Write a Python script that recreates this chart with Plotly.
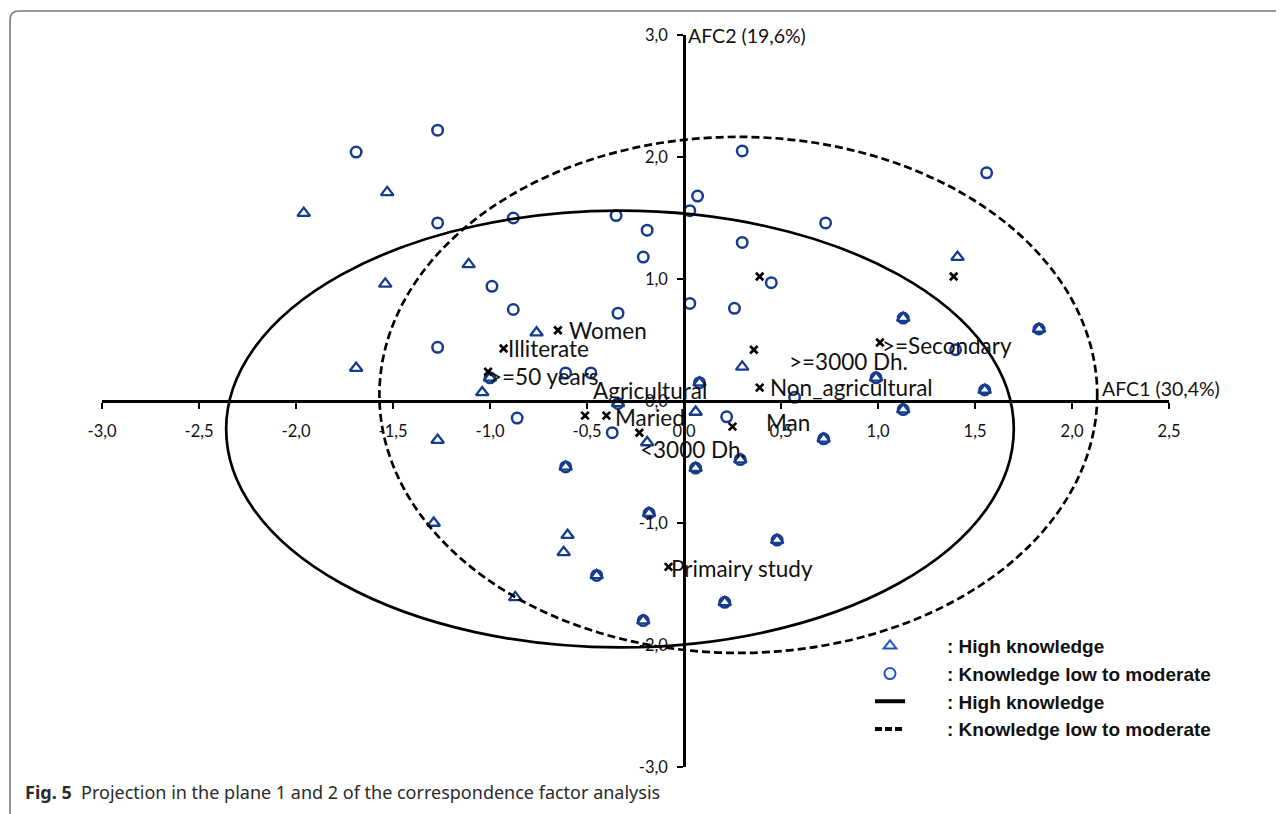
import plotly.graph_objects as go

# ---------------- data ----------------
# High knowledge only (triangles)
tri_x = [-1.96, -1.53, -1.54, -1.69, -1.11, -0.76, -1.04, -1.27, -1.29, -0.60, -0.62, -0.87, -0.19, 0.06, 0.30, 1.41]
tri_y = [1.54, 1.71, 0.96, 0.27, 1.12, 0.56, 0.07, -0.32, -1.00, -1.10, -1.24, -1.61, -0.34, -0.09, 0.28, 1.18]
# Knowledge low to moderate only (circles)
circ_x = [-1.69, -1.27, -1.27, -0.88, -0.35, -0.19, -0.21, 0.03, 0.07, 0.30, 0.30, 0.73, 1.56, 0.45, -0.99,
          -0.88, -0.34, 0.03, 0.26, -1.27, -0.61, -0.48, -0.86, -0.37, 0.22, 0.57, 1.40]
circ_y = [2.04, 2.22, 1.46, 1.50, 1.52, 1.40, 1.18, 1.56, 1.68, 2.05, 1.30, 1.46, 1.87, 0.97, 0.94,
          0.75, 0.72, 0.80, 0.76, 0.44, 0.23, 0.23, -0.14, -0.26, -0.13, 0.03, 0.42]
# points where both groups coincide
both_x = [-1.00, 0.08, -0.34, -0.61, 0.06, 0.29, 0.72, -0.18, 0.48, -0.45, -0.21, 0.21, 1.13, 1.83, 0.99, 1.55, 1.13]
both_y = [0.19, 0.15, -0.02, -0.54, -0.55, -0.48, -0.31, -0.92, -1.14, -1.43, -1.80, -1.65, 0.68, 0.59, 0.19, 0.09, -0.07]

# modalities (black crosses)
cat_names = ["Women", "Illiterate", ">=50 years", "Agricultural", "Maried", "<3000 Dh.", "Man",
             ">=3000 Dh.", "Non_agricultural", ">=Secondary", "Primairy study", "", ""]
cat_x = [-0.65, -0.93, -1.01, -0.51, -0.40, -0.23, 0.25, 0.36, 0.39, 1.01, -0.08, 0.39, 1.39]
cat_y = [0.58, 0.43, 0.24, -0.12, -0.12, -0.26, -0.21, 0.42, 0.11, 0.48, -1.36, 1.02, 1.02]

# confidence ellipses: centre and semi-axes
high_cx, high_cy, high_rx, high_ry = -0.33, -0.23, 2.03, 1.79
low_cx, low_cy, low_rx, low_ry = 0.28, 0.05, 1.85, 2.115

x_tickvals = [-3.0, -2.5, -2.0, -1.5, -1.0, -0.5, 0.0, 0.5, 1.0, 1.5, 2.0, 2.5]
x_ticktext = ["-3,0", "-2,5", "-2,0", "-1,5", "-1,0", "-0,5", "0,0", "0,5", "1,0", "1,5", "2,0", "2,5"]
y_tickvals = [-3.0, -2.0, -1.0, 0.0, 1.0, 2.0, 3.0]
y_ticktext = ["-3,0", "-2,0", "-1,0", "0,0", "1,0", "2,0", "3,0"]

axis1_title = "AFC1 (30,4%)"
axis2_title = "AFC2 (19,6%)"
legend_labels = [": High knowledge", ": Knowledge low to moderate", ": High knowledge", ": Knowledge low to moderate"]
caption_bold = "Fig. 5"
caption_text = "Projection in the plane 1 and 2 of the correspondence factor analysis"

# ---------------- layout geometry ----------------
# the page body has an 8px margin; the figure is sized to fit the window
OFF = 8
W, H = 1284 - OFF, 814 - OFF
PL, PR, PT, PB = 102, 1169, 35, 767          # plot area in page pixels
ML, MR, MT, MB = PL - OFF, W - (PR - OFF), PT - OFF, H - (PB - OFF)
PW, PH = PR - PL, PB - PT
X_RANGE = [-3.0, 2.5]
Y_RANGE = [-3.0, 3.0]


def px_x(p):
    return (p - PL) / PW


def px_y(p):
    return (PB - p) / PH


BLUE = "#173c8e"
LBLUE = "#2456b8"

# label offsets in pixels (xshift, yshift)
label_shift = {
    "Women": (9, 0), "Illiterate": (2, 0), ">=50 years": (-1, -5), "Agricultural": (6, 25),
    "Maried": (7, -2), "<3000 Dh.": (-1, -17), "Man": (31, 4), ">=3000 Dh.": (33, -12),
    "Non_agricultural": (8, 0), ">=Secondary": (0, -3), "Primairy study": (1, -2),
}

fig = go.Figure()

# circles (low to moderate)
fig.add_trace(go.Scatter(
    x=circ_x + both_x, y=circ_y + both_y, mode="markers", showlegend=False,
    marker=dict(symbol="circle-open", size=10.5, color=BLUE, line=dict(width=2.5, color=BLUE)),
    hoverinfo="skip"))
# triangles (high)
fig.add_trace(go.Scatter(
    x=tri_x + both_x, y=tri_y + both_y, mode="markers", showlegend=False,
    marker=dict(symbol="triangle-up-open", size=11, color=BLUE, line=dict(width=2.3, color=BLUE)),
    hoverinfo="skip"))
# crosses
fig.add_trace(go.Scatter(
    x=cat_x, y=cat_y, mode="markers", showlegend=False,
    marker=dict(symbol="x-thin", size=7.5, color="black", line=dict(width=2.7, color="black")),
    hoverinfo="skip"))

# legend-only entries
pad = "\u00a0" * 7
fig.add_trace(go.Scatter(x=[None], y=[None], mode="markers", name=pad + legend_labels[0],
                         legendgroup="a",
                         marker=dict(symbol="triangle-up-open", size=11, color=LBLUE,
                                     line=dict(width=2, color=LBLUE))))
fig.add_trace(go.Scatter(x=[None], y=[None], mode="markers", name=pad + legend_labels[1],
                         legendgroup="b",
                         marker=dict(symbol="circle-open", size=11, color=LBLUE,
                                     line=dict(width=2, color=LBLUE))))
fig.add_trace(go.Scatter(x=[None], y=[None], mode="lines", name=pad + legend_labels[2],
                         legendgroup="c", line=dict(color="black", width=4)))
fig.add_trace(go.Scatter(x=[None], y=[None], mode="lines", name=pad + legend_labels[3],
                         legendgroup="d", line=dict(color="black", width=4, dash="7px,3px")))

# ellipses
fig.add_shape(type="circle", xref="x", yref="y",
              x0=high_cx - high_rx, x1=high_cx + high_rx, y0=high_cy - high_ry, y1=high_cy + high_ry,
              line=dict(color="black", width=2.7))
fig.add_shape(type="circle", xref="x", yref="y",
              x0=low_cx - low_rx, x1=low_cx + low_rx, y0=low_cy - low_ry, y1=low_cy + low_ry,
              line=dict(color="black", width=2.7, dash="8px,4px"))

# frame with rounded corner
r = 9
frame_path = (f"M {px_x(10)},{px_y(840)} L {px_x(10)},{px_y(11 + r)} "
              f"Q {px_x(10)},{px_y(11)} {px_x(10 + r)},{px_y(11)} L {px_x(1320)},{px_y(11)}")
fig.add_shape(type="path", xref="paper", yref="paper", path=frame_path,
              line=dict(color="#7a7a7a", width=1.6), layer="below")


def esc(s):
    return s.replace("<", "&lt;").replace(">", "&gt;")


# modality labels
for name, xv, yv in zip(cat_names, cat_x, cat_y):
    if not name:
        continue
    dx, dy = label_shift.get(name, (6, 0))
    fig.add_annotation(x=xv, y=yv, xref="x", yref="y", text=esc(name), showarrow=False,
                       xanchor="left", yanchor="middle", xshift=dx, yshift=dy,
                       font=dict(family="Lato", size=22.5, color="#111111"))

# axis titles
fig.add_annotation(x=0, y=3.0, xref="x", yref="y", text=axis2_title, showarrow=False,
                   xanchor="left", yanchor="middle", xshift=2,
                   font=dict(family="Lato", size=19.5, color="#111111"))
fig.add_annotation(x=px_x(1100), y=0, xref="paper", yref="y", text=axis1_title, showarrow=False,
                   xanchor="left", yanchor="middle", yshift=13,
                   font=dict(family="Lato", size=19.5, color="#111111"))

# caption
fig.add_annotation(x=px_x(23), y=px_y(792), xref="paper", yref="paper",
                   text=f"<b>{caption_bold}</b>\u00a0\u00a0{caption_text}", showarrow=False,
                   xanchor="left", yanchor="middle",
                   font=dict(family="Noto Sans", size=18, color="#2a2a2a"))

fig.update_layout(
    width=W, height=H,
    margin=dict(l=ML, r=MR, t=MT, b=MB, pad=0),
    paper_bgcolor="white", plot_bgcolor="white",
    xaxis=dict(range=X_RANGE, anchor="free", position=0.5, showline=True, linecolor="black",
               linewidth=2.7, ticks="outside", ticklen=6, tickwidth=2, tickcolor="black",
               tickvals=x_tickvals, ticktext=x_ticktext, showgrid=False, zeroline=False,
               ticklabelstandoff=8,
               tickfont=dict(family="Lato", size=16.5, color="#111111")),
    yaxis=dict(range=Y_RANGE, anchor="free", position=(0 - X_RANGE[0]) / (X_RANGE[1] - X_RANGE[0]),
               showline=True, linecolor="black", linewidth=2.7, ticks="outside", ticklen=6,
               tickwidth=2, tickcolor="black", tickvals=y_tickvals, ticktext=y_ticktext,
               showgrid=False, zeroline=False, ticklabelstandoff=6,
               tickfont=dict(family="Lato", size=16.5, color="#111111")),
    showlegend=True,
    legend=dict(x=px_x(870), y=px_y(627), xanchor="left", yanchor="top",
                traceorder="grouped", tracegroupgap=0,
                font=dict(family="Liberation Sans", size=19, color="#111111", weight="bold"),
                bgcolor="rgba(0,0,0,0)", borderwidth=0),
)

fig.write_html("out.html")
